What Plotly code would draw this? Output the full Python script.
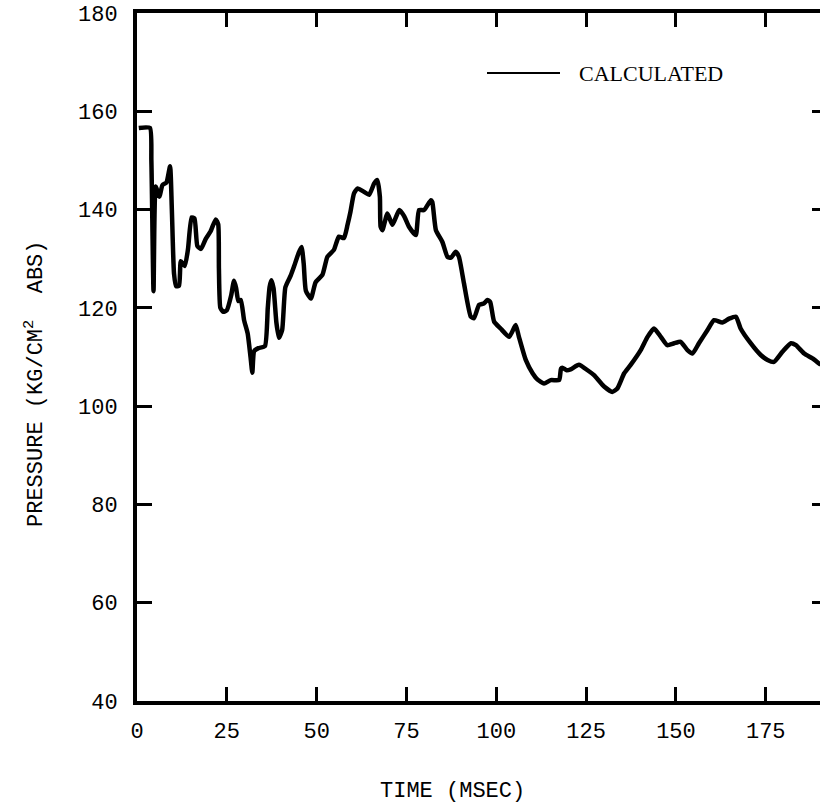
import plotly.graph_objects as go

# Calculated pressure history: time (msec) vs pressure (kg/cm^2 abs)
time_ms = [
    0.5, 3.6, 4.0, 4.6, 5.2, 6.2, 7.1, 8.2, 9.2, 9.7,
    10.3, 10.9, 11.7, 12.2, 13.3, 14.2, 15.2, 16.0, 16.8, 17.8,
    19.1, 20.5, 21.9, 22.6, 22.8, 23.2, 24.0, 25.0, 26.2, 27.0,
    27.6, 28.2, 28.9, 29.8, 30.8, 31.6, 32.1, 32.6, 33.8, 35.6,
    36.4, 36.9, 37.4, 38.0, 38.8, 39.5, 40.4, 41.3, 42.8, 43.7,
    45.0, 45.8, 46.4, 47.0, 48.4, 49.7, 51.6, 53.0, 54.8, 56.2,
    57.6, 58.6, 59.4, 60.4, 61.4, 63.2, 64.6, 66.0, 66.9, 67.6,
    67.8, 68.3, 69.7, 71.1, 73.0, 74.4, 75.7, 77.6, 78.5, 79.9,
    81.8, 82.2, 83.2, 85.0, 86.4, 87.4, 88.7, 89.6, 91.0, 92.9,
    93.8, 95.2, 96.6, 97.5, 98.3, 99.4, 101.2, 103.6, 105.4, 106.3,
    108.2, 110.1, 111.5, 113.3, 115.2, 117.5, 118.0, 118.4, 119.6, 120.7,
    123.0, 125.4, 127.2, 130.0, 132.3, 133.7, 135.6, 137.4, 140.2, 142.1,
    143.9, 145.8, 147.6, 149.5, 151.3, 153.2, 154.6, 156.4, 158.8, 160.6,
    162.9, 164.8, 166.7, 168.0, 170.8, 173.6, 175.5, 177.3, 179.7, 182.0,
    183.4, 185.7, 188.0, 190.3,
]
pressure = [
    156.6, 156.6, 150.0, 123.4, 144.7, 142.6, 145.0, 145.5, 148.8, 140.0,
    127.0, 124.4, 124.5, 129.5, 128.5, 132.0, 138.4, 138.2, 132.6, 132.0,
    134.0, 135.6, 138.0, 137.0, 128.0, 120.0, 119.2, 119.5, 122.5, 125.5,
    124.0, 121.4, 121.6, 117.5, 114.8, 110.0, 106.8, 111.2, 111.8, 112.2,
    120.0, 124.2, 125.6, 124.0, 117.0, 113.9, 115.5, 124.2, 126.6, 128.4,
    131.2, 132.4, 129.0, 123.5, 121.9, 125.2, 126.7, 130.4, 131.8, 134.5,
    134.2, 136.9, 139.5, 143.3, 144.3, 143.6, 143.0, 145.3, 146.0, 142.6,
    136.5, 135.8, 139.2, 136.9, 139.9, 138.6, 136.5, 134.8, 139.9, 139.9,
    141.9, 141.5, 135.8, 133.4, 130.4, 130.2, 131.4, 130.4, 125.0, 118.2,
    117.9, 120.6, 120.9, 121.6, 121.2, 117.2, 115.8, 114.1, 116.5, 114.1,
    109.4, 106.7, 105.4, 104.6, 105.3, 105.3, 107.6, 107.8, 107.3, 107.5,
    108.4, 107.3, 106.3, 104.0, 102.9, 103.6, 106.7, 108.4, 111.4, 114.1,
    115.8, 114.1, 112.4, 112.8, 113.1, 111.4, 110.7, 112.8, 115.5, 117.5,
    117.0, 117.8, 118.2, 115.8, 112.8, 110.4, 109.4, 109.0, 111.1, 112.8,
    112.4, 110.7, 109.7, 108.4,
]

x_ticks = [0, 25, 50, 75, 100, 125, 150, 175]
y_ticks = [40, 60, 80, 100, 120, 140, 160, 180]
right_ticks = [60, 80, 100, 120, 140, 160]

x_range = [0, 190.1]
y_range = [40, 180]

series_name = "CALCULATED"
x_title = "TIME (MSEC)"
y_title = "PRESSURE (KG/CM<sup>2</sup>  ABS)"

mono = "Liberation Mono, Courier New, monospace"
serif = "Liberation Serif, Times New Roman, serif"

fig = go.Figure()
fig.add_trace(go.Scatter(
    x=time_ms, y=pressure, mode="lines", name=series_name,
    line=dict(color="#000000", width=4.5, shape="spline", smoothing=0.5),
    showlegend=False, hoverinfo="skip",
))
# transparent copy on the right-hand axis so its inner ticks are drawn
fig.add_trace(go.Scatter(
    x=time_ms, y=pressure, mode="lines", yaxis="y2",
    line=dict(color="rgba(0,0,0,0)", width=0),
    showlegend=False, hoverinfo="skip",
))

fig.update_layout(
    width=820, height=809,
    margin=dict(l=137, r=0, t=13, b=108),
    paper_bgcolor="white", plot_bgcolor="white",
    font=dict(family=mono, color="#000000", size=22),
    xaxis=dict(
        range=x_range, tickvals=x_ticks, ticktext=[str(v) for v in x_ticks],
        showgrid=False, zeroline=False,
        showline=True, linewidth=4, linecolor="#000000", mirror="ticks",
        ticks="inside", ticklen=14, tickwidth=2.5, tickcolor="#000000",
        tickfont=dict(family=mono, size=22, color="#000000"),
        ticklabelstandoff=7,
    ),
    yaxis=dict(
        range=y_range, tickvals=y_ticks, ticktext=[str(v) for v in y_ticks],
        showgrid=False, zeroline=False,
        showline=True, linewidth=4, linecolor="#000000",
        ticks="inside", ticklen=15, tickwidth=2.5, tickcolor="#000000",
        tickfont=dict(family=mono, size=22, color="#000000"),
        ticklabelstandoff=11,
    ),
    yaxis2=dict(
        range=y_range, overlaying="y", side="right", anchor="x",
        tickvals=right_ticks, showticklabels=False,
        showgrid=False, zeroline=False, showline=False,
        ticks="inside", ticklen=8, tickwidth=2.5, tickcolor="#000000",
    ),
    annotations=[
        dict(text=x_title, xref="paper", yref="paper",
             x=(452 - 137) / 683, y=-(791 - 701) / 688,
             xanchor="center", yanchor="middle", showarrow=False,
             font=dict(family=mono, size=22, color="#000000")),
        dict(text=y_title, xref="paper", yref="paper",
             x=-(137 - 34) / 683, y=(701 - 384) / 688, textangle=-90,
             xanchor="center", yanchor="middle", showarrow=False,
             font=dict(family=mono, size=22, color="#000000")),
        dict(text=series_name, xref="paper", yref="paper",
             x=(577 - 137) / 683, y=(701 - 73) / 688,
             xanchor="left", yanchor="middle", showarrow=False,
             font=dict(family=serif, size=22, color="#000000")),
    ],
    shapes=[
        dict(type="line", xref="paper", yref="paper",
             x0=(487 - 137) / 683, x1=(560 - 137) / 683,
             y0=(701 - 73) / 688, y1=(701 - 73) / 688,
             line=dict(color="#000000", width=1.8)),
    ],
)

fig.write_html("out.html")
